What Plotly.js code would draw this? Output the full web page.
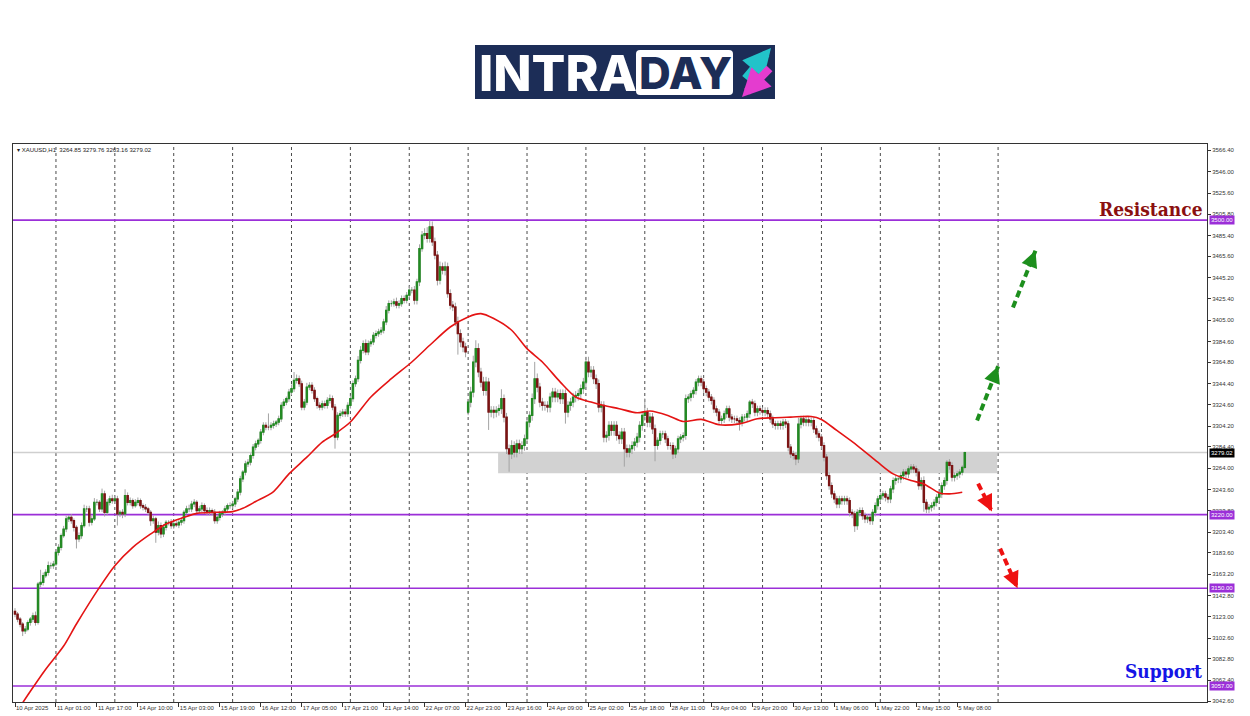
<!DOCTYPE html>
<html><head><meta charset="utf-8">
<script src="https://cdn.plot.ly/plotly-3.0.1.min.js"></script>
<style>html,body{margin:0;padding:0;background:#fff;overflow:hidden}#chart{width:1250px;height:716px}</style>
</head><body><div id="chart"></div>
<script>
// ---- data (XAUUSD H1, 10 Apr 2025 09:00 -> 5 May 2025 11:00) ----
const closes = [
3125.4,3120.6,3115.8,3109.5,3111.1,3117.4,3120.6,3123.8,3117.4,3153.9,
3155.5,3161.9,3165.0,3171.4,3171.4,3173.0,3184.1,3188.9,3200.0,3206.3,
3215.9,3217.4,3214.3,3207.9,3196.8,3200.0,3209.5,3225.4,3225.4,3212.7,
3215.9,3231.7,3231.7,3225.4,3239.7,3222.2,3231.7,3234.9,3233.3,3234.9,
3220.6,3222.2,3220.6,3238.1,3231.7,3233.3,3228.6,3231.7,3233.3,3228.6,
3227.0,3225.4,3222.2,3214.3,3215.9,3203.2,3209.5,3201.6,3207.9,3212.7,
3212.7,3209.5,3211.1,3210.1,3212.7,3214.3,3222.2,3225.4,3225.4,3230.1,
3231.7,3223.8,3225.4,3228.6,3223.8,3222.2,3223.8,3222.2,3214.3,3217.4,
3220.6,3222.2,3225.4,3228.6,3228.6,3230.1,3234.9,3241.3,3253.9,3260.3,
3268.2,3269.8,3276.2,3284.1,3287.3,3290.5,3298.4,3304.8,3303.2,3303.2,
3304.8,3306.3,3307.9,3311.1,3323.8,3327.0,3330.2,3336.5,3339.7,3347.6,
3349.2,3344.4,3322.2,3327.0,3341.3,3342.9,3338.1,3330.2,3323.8,3322.2,
3325.4,3323.8,3328.6,3330.2,3322.2,3293.7,3314.3,3315.9,3317.5,3315.9,
3323.8,3330.2,3344.5,3349.2,3366.7,3376.2,3382.6,3374.6,3382.6,3384.2,
3390.5,3392.1,3393.7,3395.3,3403.2,3414.3,3420.7,3420.7,3422.3,3419.1,
3420.7,3425.4,3423.8,3428.6,3433.4,3433.4,3423.8,3441.3,3473.0,3485.7,
3487.3,3482.6,3493.7,3479.4,3466.7,3442.9,3455.6,3452.4,3455.6,3430.2,
3419.1,3417.5,3403.2,3392.1,3384.2,3379.4,3374.6,3327.0,3336.5,3365.1,
3377.8,3355.6,3346.0,3338.1,3346.0,3317.5,3319.1,3317.5,3319.1,3320.7,
3330.2,3312.7,3282.6,3277.8,3285.7,3279.4,3287.3,3282.6,3285.7,3292.1,
3308.0,3314.3,3330.2,3349.2,3341.3,3327.0,3323.8,3323.8,3322.2,3331.8,
3336.5,3331.8,3335.0,3330.2,3335.0,3317.5,3323.8,3327.0,3331.8,3333.4,
3335.0,3339.7,3346.0,3365.1,3355.6,3357.2,3349.2,3344.5,3322.2,3323.8,
3293.7,3295.3,3304.8,3300.0,3304.8,3295.3,3292.1,3298.4,3282.6,3279.4,
3282.6,3285.7,3288.9,3293.7,3304.8,3314.3,3317.5,3308.0,3312.7,3301.6,
3285.7,3290.5,3296.8,3296.8,3292.0,3285.7,3285.7,3277.8,3282.5,3292.0,
3293.6,3295.2,3330.2,3331.7,3334.9,3338.1,3346.0,3349.2,3346.0,3339.7,
3336.5,3331.7,3328.6,3320.6,3317.5,3309.5,3311.1,3315.9,3320.6,3312.7,
3311.1,3311.1,3309.5,3307.9,3312.7,3312.7,3315.9,3327.0,3325.4,3317.5,
3320.6,3319.0,3317.5,3319.0,3315.9,3311.1,3306.3,3304.8,3306.3,3304.8,
3307.9,3306.3,3284.1,3277.8,3276.2,3273.0,3306.0,3311.0,3308.0,3310.0,
3307.9,3309.5,3301.6,3296.8,3293.6,3285.7,3274.6,3257.1,3247.6,3239.7,
3234.9,3230.1,3234.9,3233.3,3234.9,3233.3,3222.2,3220.6,3209.5,3222.2,
3223.8,3219.0,3215.9,3217.4,3214.3,3222.2,3228.6,3234.9,3238.1,3239.7,
3236.5,3234.9,3244.4,3252.4,3253.9,3253.9,3257.1,3260.3,3258.7,3263.5,
3265.1,3263.5,3260.3,3247.6,3252.4,3231.7,3225.4,3227.0,3228.6,3231.7,
3236.5,3239.7,3247.6,3252.4,3269.8,3266.7,3255.5,3257.1,3258.7,3260.3,
3264.85,3279.02];
const wickUp = [
3,2,2,2,3,2,2,3,4,2, 12,3,3,4,3,3,2,3,2,3, 3,2,3,2,2,3,3,4,3,3, 3,4,3,2,5,3,3,3,4,3,
3,2,3,6,3,3,2,3,3,2, 2,3,2,2,3,2,4,3,3,2, 2,3,2,3,2,3,2,3,4,3, 3,2,3,3,2,3,3,2,3,2,
3,2,3,2,3,3,2,3,3,2, 3,3,2,3,3,2,3,3,3,13, 3,3,2,3,3,3,2,3,4,8, 4,3,3,3,4,3,3,3,2,3,
3,3,3,4,3,3,3,3,3,3, 3,3,3,3,4,4,3,4,3,3, 3,3,3,3,3,4,3,3,3,4, 3,3,3,3,4,3,4,3,4,4,
5,6,6,5,4,4,5,4,5,4, 4,4,4,5,4,4,4,3,5,6, 8,5,4,5,5,4,4,4,4,4, 9,4,4,4,5,4,4,4,4,4,
4,4,5,16,5,4,4,4,4,4, 4,4,4,4,4,4,4,4,4,4, 4,4,4,5,5,4,4,4,4,4, 4,4,4,4,4,4,4,4,4,4,
4,4,4,4,4,4,13,4,4,4, 4,3,3,3,3,3,3,3,3,3, 3,3,4,3,3,3,3,3,3,3, 3,3,3,3,3,3,3,3,3,3,
3,3,3,3,3,3,3,2,3,3, 3,3,3,3,3,3,3,3,3,3, 3,3,3,3,3,3,6,3,3,3, 3,3,3,3,3,3,3,3,3,3,
3,3,3,3,3,3,3,3,3,3, 3,3,3,3,3,3,3,3,3,3, 3,3,3,3,3,3,3,3,3,3, 3,3,3,3,3,4,3,3,3,3,
3,3,3,3,2,3,3,3,3,3, 2,0.74];
const wickDown = [
3,3,3,5,3,2,3,3,3,2, 3,3,2,3,3,3,2,3,3,2, 3,3,3,4,9,3,3,2,3,4, 3,2,3,3,3,4,3,3,3,3,
11,3,4,3,3,3,3,2,3,3, 3,3,3,5,3,10,3,4,3,3, 3,3,3,2,3,3,3,2,3,3, 3,3,3,3,3,3,3,3,3,3,
3,3,3,3,3,3,3,3,3,3, 3,3,3,3,3,3,3,3,3,3, 3,3,3,3,3,3,3,3,3,3, 3,3,3,3,3,3,3,3,3,3,
3,3,3,3,3,11,3,3,3,3, 3,3,3,3,3,3,3,3,3,3, 3,3,3,3,3,3,3,3,3,3, 3,3,3,3,3,3,4,4,4,3,
4,4,4,4,4,5,4,4,5,4, 4,4,4,20,5,5,5,3,5,5, 5,5,5,5,5,17,5,6,5,5, 5,5,5,17,5,5,5,5,5,5,
5,5,5,5,5,5,5,5,5,5, 5,5,5,5,5,11,5,5,5,5, 5,5,5,5,5,5,5,5,5,5, 5,5,5,5,5,5,5,5,17,5,
5,5,5,5,5,5,5,5,5,5, 15,4,4,4,4,4,4,5,4,4, 4,4,4,4,4,4,4,4,4,4, 4,4,4,4,4,4,4,4,4,4,
4,4,4,8,4,4,4,4,4,4, 4,4,4,4,4,4,4,4,4,4, 4,4,4,4,4,6,4,4,4,4, 4,4,4,4,4,4,4,4,4,4,
4,4,4,4,4,4,4,4,6,4, 4,4,4,4,4,4,4,4,4,4, 4,4,4,4,4,4,4,4,4,4, 4,4,4,4,4,9,4,4,4,4,
4,4,4,4,4,4,4,4,4,4, 3,1.69];
const firstOpen = 3128.0;
const gapBars = [177];
const gapOpens = [3317.5];

// 50-period moving average
const maIdx = [0,6,12,19,24,33,39,46,53,59,66,71,79,85,89,94,101,107,114,120,125,131,139,147,155,162,170,177,182,187,194,200,206,213,219,225,230,236,243,248,255,261,268,275,283,290,296,303,311,315,321,329,337,343,350,355,361,365,370];
const maVal = [3030,3052,3073,3095,3116,3150.8,3171.4,3188.9,3201.6,3211.1,3217.4,3221.2,3222.2,3222.8,3226.0,3232.4,3241.9,3258.7,3274.6,3288.9,3296.8,3308,3331.8,3349.2,3365.1,3381,3398.4,3408,3411.1,3406.4,3395.3,3377.8,3365.1,3346.0,3331.8,3327.0,3323.8,3320.7,3316.8,3318.5,3314.3,3308.6,3310.5,3305.4,3306.3,3311.1,3312.1,3312.7,3313.3,3310.5,3300,3285.7,3269.8,3258.7,3252.4,3249.2,3240.6,3239.7,3241.3];

// axis labels
const labelIdx = [0,16,32,48,64,80,96,112,128,144,160,176,192,208,224,240,256,272,288,304,320,336,352,368];
const labelText = ['10 Apr 2025','11 Apr 01:00','11 Apr 17:00','14 Apr 10:00','15 Apr 03:00','15 Apr 19:00','16 Apr 12:00','17 Apr 05:00','17 Apr 21:00','21 Apr 14:00','22 Apr 07:00','22 Apr 23:00','23 Apr 16:00','24 Apr 09:00','25 Apr 02:00','25 Apr 18:00','28 Apr 11:00','29 Apr 04:00','29 Apr 20:00','30 Apr 13:00','1 May 06:00','1 May 22:00','2 May 15:00','5 May 08:00'];
const dayIdx = [16,39,62,85,108,131,154,177,200,223,246,269,292,315,338,361,384];
const yTicks = [3566.40,3546.00,3525.60,3505.80,3485.40,3465.60,3445.20,3425.40,3405.00,3384.60,3364.80,3344.40,3324.60,3304.20,3284.40,3264.00,3243.60,3223.80,3203.40,3183.60,3163.20,3142.80,3123.00,3102.60,3082.80,3062.40,3042.60];

// levels, zone, arrows
const levels = [3500.00, 3220.00, 3150.00, 3057.00];
const lastPrice = 3279.02;
const zoneX = [188.7, 383.6];
const zoneY = [3259.3, 3279.0];
const arrowX = [[389.8, 398.6],[375.8, 384.0],[376.2, 381.6],[384.8, 391.6]];
const arrowY = [[3417.0, 3471.0],[3309.5, 3361.0],[3249.5, 3223.0],[3187.6, 3150.0]];
const arrowColor = ['#1d8f1d','#1d8f1d','#ee1111','#ee1111'];
const header = '\u25BE XAUUSD,H1  3264.85 3279.76 3263.16 3279.02';

// ---- build ----
const idx = closes.map((_, i) => i);
const opens = closes.map((c, i) => i === 0 ? firstOpen : closes[i - 1]);
gapBars.forEach((b, k) => { opens[b] = gapOpens[k]; });
const highs = closes.map((c, i) => Math.max(c, opens[i]) + wickUp[i]);
const lows = closes.map((c, i) => Math.min(c, opens[i]) - wickDown[i]);
const bodyHi = closes.map((c, i) => Math.max(c, opens[i]));
const bodyLo = closes.map((c, i) => Math.min(c, opens[i]));

const WICK = '#a3a3a3', UP = '#238a23', DN = '#7c1414';
const traces = [
  {type:'candlestick', x:idx, open:opens, high:highs, low:lows, close:closes,
   increasing:{line:{color:WICK,width:1}, fillcolor:WICK}, decreasing:{line:{color:WICK,width:1}, fillcolor:WICK},
   whiskerwidth:0, hoverinfo:'skip', showlegend:false},
  {type:'candlestick', x:idx, open:opens, high:bodyHi, low:bodyLo, close:closes,
   increasing:{line:{color:UP,width:1.2}, fillcolor:UP}, decreasing:{line:{color:DN,width:1.2}, fillcolor:DN},
   whiskerwidth:0, hoverinfo:'skip', showlegend:false},
  {type:'scatter', mode:'lines', x:maIdx, y:maVal, line:{color:'#e41414', width:1.6, shape:'spline', smoothing:0.8},
   hoverinfo:'skip', showlegend:false}
];
arrowX.forEach((ax, k) => {
  traces.push({type:'scatter', mode:'lines', x:ax, y:arrowY[k],
    line:{color:arrowColor[k], width:4, dash:'7px,4px'}, hoverinfo:'skip', showlegend:false});
});

const L = 13, R = 1207, T = 144, B = 702;
const px = v => (v - L) / (R - L);
const py = v => (B - v) / (B - T);
const PURPLE = '#9b2fd8', NAVY = '#1c2d57';

const shapes = [];
shapes.push({type:'rect', xref:'x', yref:'y', x0:zoneX[0], x1:zoneX[1], y0:zoneY[0], y1:zoneY[1], fillcolor:'#d2d2d2', line:{width:0}, layer:'below'});
dayIdx.forEach(d => shapes.push({type:'line', xref:'x', yref:'paper', x0:d, x1:d, y0:0, y1:1, line:{color:'#4a4a4a', width:1, dash:'dot'}, layer:'below'}));
shapes.push({type:'line', xref:'paper', yref:'y', x0:0, x1:1, y0:lastPrice, y1:lastPrice, line:{color:'#cfcfcf', width:1.5}, layer:'below'});
levels.forEach(l => shapes.push({type:'line', xref:'paper', yref:'y', x0:0, x1:1, y0:l, y1:l, line:{color:PURPLE, width:1.6}, layer:'below'}));
// logo
shapes.push({type:'rect', xref:'paper', yref:'paper', x0:px(475), x1:px(775), y0:py(99), y1:py(45), fillcolor:NAVY, line:{width:0}});
shapes.push({type:'path', xref:'paper', yref:'paper', fillcolor:'#ffffff', line:{width:0},
  path:`M ${px(640)},${py(50)} L ${px(729)},${py(50)} Q ${px(733)},${py(50)} ${px(733)},${py(54)} L ${px(733)},${py(91)} Q ${px(733)},${py(95)} ${px(729)},${py(95)} L ${px(640)},${py(95)} Q ${px(636)},${py(95)} ${px(636)},${py(91)} L ${px(636)},${py(54)} Q ${px(636)},${py(50)} ${px(640)},${py(50)} Z`});

const tf = {family:'Liberation Sans, Arial, sans-serif', size:6, color:'#333'};
const annotations = [];
levels.forEach(l => annotations.push({xref:'paper', yref:'y', x:1, y:l, xanchor:'left', yanchor:'middle', xshift:2,
  text:l.toFixed(2), showarrow:false, bgcolor:PURPLE, borderpad:1, font:{family:tf.family, size:6, color:'#fff'}}));
annotations.push({xref:'paper', yref:'y', x:1, y:lastPrice, xanchor:'left', yanchor:'middle', xshift:2,
  text:lastPrice.toFixed(2), showarrow:false, bgcolor:'#000', borderpad:1, font:{family:tf.family, size:6, color:'#fff'}});
annotations.push({xref:'paper', yref:'paper', x:px(15), y:py(150), xanchor:'left', yanchor:'middle', text:header, showarrow:false,
  font:{family:tf.family, size:6, color:'#222'}});
annotations.push({xref:'paper', yref:'paper', x:px(1205), y:py(209), xanchor:'right', yanchor:'middle', text:'<b>Resistance</b>', showarrow:false,
  font:{family:'DejaVu Serif Condensed, DejaVu Serif, serif', size:19, color:'#8b1010'}});
annotations.push({xref:'paper', yref:'paper', x:px(1204), y:py(671), xanchor:'right', yanchor:'middle', text:'<b>Support</b>', showarrow:false,
  font:{family:'DejaVu Serif Condensed, DejaVu Serif, serif', size:19, color:'#1414e6'}});
// arrowheads for the dashed forecast arrows
arrowX.forEach((ax, k) => {
  const tx = ax[1], ty = arrowY[k][1];
  annotations.push({xref:'x', yref:'y', axref:'x', ayref:'y', x:tx, y:ty,
    ax: tx - 0.2 * (tx - ax[0]), ay: ty - 0.2 * (ty - arrowY[k][0]),
    text:'', showarrow:true, arrowcolor:arrowColor[k], arrowwidth:3, arrowhead:2, arrowsize:1.1});
});
// logo text + icon
annotations.push({xref:'paper', yref:'paper', x:px(558), y:py(73), xanchor:'center', yanchor:'middle', text:'INTRA', showarrow:false,
  font:{family:'Inter, Roboto, sans-serif', size:50, weight:800, color:'#ffffff'}});
annotations.push({xref:'paper', yref:'paper', x:px(685), y:py(73), xanchor:'center', yanchor:'middle', text:'DAY', showarrow:false,
  font:{family:'Inter, Roboto, sans-serif', size:44, weight:800, color:NAVY}});
annotations.push({xref:'paper', yref:'paper', x:px(771), y:py(48), text:'', showarrow:true, ax:-27, ay:32,
  arrowcolor:'#22c3c9', arrowwidth:8, arrowhead:2, arrowsize:0.7});
annotations.push({xref:'paper', yref:'paper', x:px(742), y:py(97), text:'', showarrow:true, ax:29, ay:-30,
  arrowcolor:'#e43ccf', arrowwidth:8, arrowhead:2, arrowsize:0.7});

const layout = {
  width:1250, height:716, margin:{l:L, r:1250 - R, t:T, b:716 - B},
  paper_bgcolor:'#fff', plot_bgcolor:'#fff', showlegend:false, boxmode:'overlay',
  xaxis:{type:'linear', range:[-0.78, 465.6], tickmode:'array', tickvals:labelIdx, ticktext:labelText,
    ticks:'outside', ticklen:4, tickcolor:'#333', tickfont:tf, ticklabelposition:'outside right', tickangle:0,
    showgrid:false, zeroline:false, showline:true, linecolor:'#333', linewidth:1, mirror:true,
    rangeslider:{visible:false}, fixedrange:true, automargin:false},
  yaxis:{side:'right', range:[3041.8, 3572.4], tickmode:'array', tickvals:yTicks, ticktext:yTicks.map(v => v.toFixed(2)),
    ticks:'outside', ticklen:3, tickcolor:'#333', tickfont:tf, showgrid:false, zeroline:false,
    showline:true, linecolor:'#333', linewidth:1, mirror:true, fixedrange:true, automargin:false},
  shapes:shapes, annotations:annotations
};
Plotly.newPlot('chart', traces, layout, {staticPlot:true, displayModeBar:false});
</script></body></html>
